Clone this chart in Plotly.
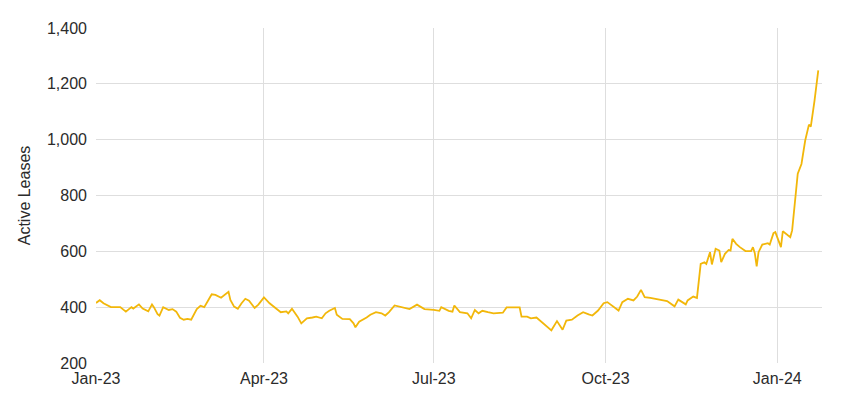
import plotly.graph_objects as go

dates = [
    "2023-01-01", "2023-01-03", "2023-01-05", "2023-01-09", "2023-01-14", "2023-01-17", "2023-01-20",
    "2023-01-21", "2023-01-24", "2023-01-26", "2023-01-29", "2023-01-31", "2023-02-01", "2023-02-03",
    "2023-02-04", "2023-02-06", "2023-02-09", "2023-02-11", "2023-02-13", "2023-02-15", "2023-02-17",
    "2023-02-19", "2023-02-21", "2023-02-24", "2023-02-26", "2023-02-28", "2023-03-02", "2023-03-04",
    "2023-03-06", "2023-03-09", "2023-03-13", "2023-03-14", "2023-03-16", "2023-03-18", "2023-03-20",
    "2023-03-22", "2023-03-24", "2023-03-27", "2023-03-29", "2023-04-01", "2023-04-04", "2023-04-05",
    "2023-04-07", "2023-04-10", "2023-04-13", "2023-04-14", "2023-04-16", "2023-04-19", "2023-04-21",
    "2023-04-24", "2023-04-27", "2023-04-29", "2023-05-02", "2023-05-04", "2023-05-06", "2023-05-09",
    "2023-05-10", "2023-05-13", "2023-05-17", "2023-05-19", "2023-05-20", "2023-05-22", "2023-05-26",
    "2023-05-28", "2023-05-31", "2023-06-03", "2023-06-05", "2023-06-07", "2023-06-10", "2023-06-14",
    "2023-06-18", "2023-06-22", "2023-06-26", "2023-07-01", "2023-07-04", "2023-07-05", "2023-07-09",
    "2023-07-11", "2023-07-12", "2023-07-15", "2023-07-19", "2023-07-21", "2023-07-23", "2023-07-25",
    "2023-07-27", "2023-07-30", "2023-08-02", "2023-08-07", "2023-08-09", "2023-08-16", "2023-08-17",
    "2023-08-20", "2023-08-22", "2023-08-25", "2023-08-28", "2023-08-31", "2023-09-02", "2023-09-05",
    "2023-09-08", "2023-09-10", "2023-09-13", "2023-09-16", "2023-09-19", "2023-09-22", "2023-09-24",
    "2023-09-27", "2023-09-30", "2023-10-02", "2023-10-05", "2023-10-08", "2023-10-10", "2023-10-13",
    "2023-10-16", "2023-10-18", "2023-10-20", "2023-10-22", "2023-10-25", "2023-10-28", "2023-10-30",
    "2023-11-03", "2023-11-07", "2023-11-09", "2023-11-13", "2023-11-14", "2023-11-17", "2023-11-19",
    "2023-11-21", "2023-11-23", "2023-11-24", "2023-11-26", "2023-11-27", "2023-11-29", "2023-12-01",
    "2023-12-02", "2023-12-04", "2023-12-06", "2023-12-07", "2023-12-08", "2023-12-10", "2023-12-12",
    "2023-12-15", "2023-12-18", "2023-12-19", "2023-12-20", "2023-12-21", "2023-12-22", "2023-12-24",
    "2023-12-27", "2023-12-28", "2023-12-30", "2023-12-31", "2024-01-03", "2024-01-04", "2024-01-06",
    "2024-01-08", "2024-01-09", "2024-01-11", "2024-01-12", "2024-01-14", "2024-01-16", "2024-01-18",
    "2024-01-19", "2024-01-21", "2024-01-22", "2024-01-23",
]

active_leases = [
    415, 425, 414, 400, 400, 384, 400,
    395, 410, 395, 385, 410, 400, 375,
    370, 400, 390, 393, 384, 362, 355,
    358, 355, 393, 405, 400, 423, 446,
    444, 434, 455, 426, 402, 394, 414,
    430, 423, 397, 409, 435, 414, 409,
    400, 382, 385, 378, 394, 366, 342,
    360, 363, 366, 360, 378, 387, 397,
    373, 358, 357, 342, 328, 348, 363,
    373, 382, 378, 370, 382, 406, 400,
    393, 409, 393, 390, 387, 400, 387,
    384, 406, 382, 378, 360, 390, 378,
    387, 382, 378, 380, 399, 399, 366,
    366, 360, 363, 346, 329, 317, 350,
    319, 352, 355, 370, 382, 374, 370,
    388, 414, 418, 403, 388, 418, 430,
    424, 438, 462, 436, 433, 430, 428,
    422, 403, 427, 410, 424, 438, 433,
    555, 561, 555, 597, 553, 609, 603,
    561, 591, 605, 603, 645, 627, 615,
    601, 601, 615, 593, 546, 597, 624,
    629, 624, 665, 669, 615, 672, 660,
    651, 675, 818, 878, 913, 997, 1054,
    1047, 1140, 1188, 1248,
]

x_range = ["2023-01-01", "2024-01-25"]
y_range = [200, 1400]
y_title = "Active Leases"

fig = go.Figure()
fig.add_trace(go.Scatter(
    x=dates, y=active_leases, mode="lines",
    line=dict(color="#F2B70A", width=1.8),
    showlegend=False,
))

font_color = "#2b2b2b"
fig.update_layout(
    width=857, height=399,
    margin=dict(l=88, r=43, t=20, b=44),
    paper_bgcolor="white", plot_bgcolor="white",
    font=dict(family="Liberation Sans, Arial, sans-serif", size=16, color=font_color),
)
fig.update_xaxes(
    range=x_range, type="date",
    tick0="2023-01-01", dtick="M3", tickformat="%b-%y",
    showgrid=True, gridcolor="#dedede", gridwidth=1,
    zeroline=False, showline=False,
    ticks="", ticklabelstandoff=4,
    tickfont=dict(size=16, color=font_color),
)
fig.update_yaxes(
    range=y_range, dtick=200, tickformat=",",
    showgrid=True, gridcolor="#dedede", gridwidth=1,
    zeroline=False, showline=False,
    ticks="", ticklabelstandoff=8,
    tickfont=dict(size=16, color=font_color),
    title=dict(text=y_title, font=dict(size=16, color=font_color), standoff=12),
)

fig.write_html("out.html")
